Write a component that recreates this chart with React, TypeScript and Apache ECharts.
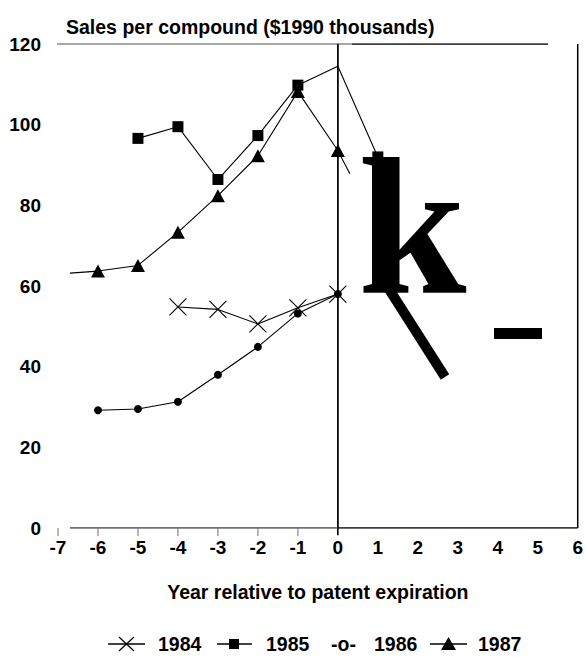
import React, { useEffect, useRef } from "react";
import * as echarts from "echarts";

// ---- data ----
const titleText = "Sales per compound ($1990 thousands)";
const xAxisTitle = "Year relative to patent expiration";
const yearTicks = [-7, -6, -5, -4, -3, -2, -1, 0, 1, 2, 3, 4, 5, 6];
const salesTicks = [0, 20, 40, 60, 80, 100, 120];
const minorTickYears = [-7, -6, -5, -4, -3, -2, -1];

const years1984 = [-4, -3, -2, -1, 0];
const sales1984 = [54.8, 54.2, 50.6, 54.6, 58.0];

const years1985 = [-5, -4, -3, -2, -1, 0, 1];
const sales1985 = [96.6, 99.5, 86.4, 97.3, 109.8, 114.5, 92.0];
const unmarked1985 = [0];

const years1986 = [-6, -5, -4, -3, -2, -1, 0];
const sales1986 = [29.2, 29.5, 31.3, 38.0, 44.9, 53.2, 58.0];

const years1987 = [-6.7, -6, -5, -4, -3, -2, -1, 0, 0.3];
const sales1987 = [63.2, 63.7, 65.1, 73.3, 82.4, 92.3, 108.2, 93.6, 87.8];
const unmarked1987 = [-6.7, 0.3];

const legendLabels = ["1984", "1985", "1986", "1987"];
const legend1986Glyph = "-o-";
const scanArtifactText = "k";

const FONT = "'Liberation Sans', Arial, Helvetica, sans-serif";

function pts(xs: number[], ys: number[], unmarked: number[] = []) {
  return xs.map((x, i) =>
    unmarked.includes(x) ? { value: [x, ys[i]], symbol: "none" } : [x, ys[i]]
  );
}

function helperLine(data: number[][], color: string, width: number, clip = true) {
  return {
    type: "line",
    data,
    symbol: "none",
    silent: true,
    clip,
    z: 1,
    lineStyle: { color, width },
    itemStyle: { color },
  };
}

export default function App() {
  const ref = useRef<HTMLDivElement>(null);

  useEffect(() => {
    if (!ref.current) return;
    const chart = echarts.init(ref.current, null, { renderer: "svg" });

    const yMin = salesTicks[0];
    const yMax = salesTicks[salesTicks.length - 1];
    const xMin = yearTicks[0];
    const xMax = yearTicks[yearTicks.length - 1];

    const legendY = 644;
    const legendText = (text: string, x: number) => ({
      type: "text",
      x,
      y: legendY,
      style: {
        text,
        fill: "#000",
        font: `bold 19.5px ${FONT}`,
        align: "left",
        verticalAlign: "middle",
      },
    });
    const legendLine = (x1: number, x2: number) => ({
      type: "line",
      shape: { x1, y1: legendY, x2, y2: legendY },
      style: { stroke: "#000", lineWidth: 1.3 },
    });

    const option: any = {
      animation: false,
      backgroundColor: "#fff",
      title: {
        text: titleText,
        left: 61,
        top: 12,
        textStyle: { fontFamily: FONT, fontSize: 19.5, fontWeight: "bold", color: "#000" },
      },
      grid: { left: 58, right: 3, top: 44, bottom: 129, containLabel: false },
      xAxis: {
        type: "value",
        min: xMin,
        max: xMax,
        interval: 1,
        axisLine: { show: false },
        axisTick: { show: false },
        splitLine: { show: false },
        axisLabel: {
          fontFamily: FONT,
          fontSize: 19,
          fontWeight: "bold",
          color: "#000",
          margin: 10,
        },
        name: xAxisTitle,
        nameLocation: "middle",
        nameGap: 54,
        nameTextStyle: { fontFamily: FONT, fontSize: 19.5, fontWeight: "bold", color: "#000" },
      },
      yAxis: {
        type: "value",
        min: yMin,
        max: yMax,
        interval: 20,
        axisLine: { show: true, lineStyle: { color: "#8a8a8a", width: 1.5 } },
        axisTick: { show: false },
        splitLine: { show: false },
        axisLabel: {
          fontFamily: FONT,
          fontSize: 19,
          fontWeight: "bold",
          color: "#000",
          margin: 17,
        },
      },
      series: [
        // frame pieces
        helperLine([[xMin - 0.1, yMax], [0.35, yMax]], "#8a8a8a", 1.5, false),
        helperLine([[0.35, yMax], [5.26, yMax]], "#000", 1.5),
        helperLine([[0, -1.8], [0, yMax]], "#000", 1.6, false),
        helperLine([[xMax, yMin], [xMax, yMax]], "#000", 1.5),
        helperLine([[-6.7, 0], [0, 0]], "#444", 1.3),
        helperLine([[0, 0], [xMax, 0]], "#000", 1.3),
        {
          type: "scatter",
          data: minorTickYears.map((x) => [x, 0]),
          symbol: "rect",
          symbolSize: [1.3, 8],
          symbolOffset: [0, 4],
          itemStyle: { color: "#777" },
          silent: true,
          clip: false,
          z: 1,
        },
        {
          name: legendLabels[0],
          type: "line",
          data: pts(years1984, sales1984),
          symbol: "path://M0,0L10,10M10,0L0,10",
          symbolSize: 17,
          itemStyle: { color: "none", borderColor: "#000", borderWidth: 1.1 },
          lineStyle: { color: "#000", width: 1.1 },
          z: 3,
        },
        {
          name: legendLabels[1],
          type: "line",
          data: pts(years1985, sales1985, unmarked1985),
          symbol: "rect",
          symbolSize: 11,
          itemStyle: { color: "#000" },
          lineStyle: { color: "#000", width: 1.1 },
          z: 3,
        },
        {
          name: legendLabels[2],
          type: "line",
          data: pts(years1986, sales1986),
          symbol: "circle",
          symbolSize: 8,
          itemStyle: { color: "#000" },
          lineStyle: { color: "#000", width: 1.1 },
          z: 3,
        },
        {
          name: legendLabels[3],
          type: "line",
          data: pts(years1987, sales1987, unmarked1987),
          symbol: "triangle",
          symbolSize: [14, 13],
          itemStyle: { color: "#000" },
          lineStyle: { color: "#000", width: 1.1 },
          z: 3,
        },
      ],
      graphic: [
        // scan artifacts in the reference
        {
          type: "text",
          z: 100,
          x: 358,
          y: 226,
          style: {
            text: scanArtifactText,
            fill: "#000",
            font: "bold 195px 'Liberation Serif', 'Times New Roman', serif",
            align: "left",
            verticalAlign: "middle",
          },
        },
        {
          type: "line",
          z: 100,
          shape: { x1: 387, y1: 286, x2: 445, y2: 377 },
          style: { stroke: "#000", lineWidth: 10 },
        },
        {
          type: "rect",
          z: 100,
          shape: { x: 494, y: 328, width: 48, height: 11 },
          style: { fill: "#000" },
        },
        // legend
        legendLine(108, 145),
        {
          type: "line",
          shape: { x1: 119, y1: legendY - 7, x2: 134, y2: legendY + 7 },
          style: { stroke: "#000", lineWidth: 1.2 },
        },
        {
          type: "line",
          shape: { x1: 119, y1: legendY + 7, x2: 134, y2: legendY - 7 },
          style: { stroke: "#000", lineWidth: 1.2 },
        },
        legendText(legendLabels[0], 158),
        legendLine(217, 252),
        {
          type: "rect",
          shape: { x: 229, y: legendY - 5, width: 10, height: 10 },
          style: { fill: "#000" },
        },
        legendText(legendLabels[1], 266),
        legendText(legend1986Glyph, 331),
        legendText(legendLabels[2], 374),
        legendLine(430, 467),
        {
          type: "polygon",
          shape: { points: [[448.5, legendY - 7], [456, legendY + 6], [441, legendY + 6]] },
          style: { fill: "#000" },
        },
        legendText(legendLabels[3], 478),
      ],
    };

    chart.setOption(option);
    return () => chart.dispose();
  }, []);

  return (
    <div
      ref={ref}
      style={{ position: "absolute", left: 0, top: 0, width: 586, height: 657, background: "#fff" }}
    />
  );
}
